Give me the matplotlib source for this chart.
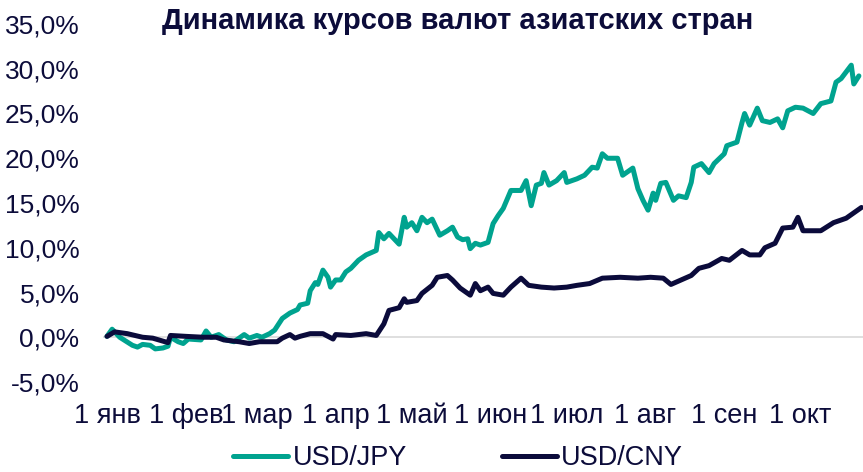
import matplotlib
matplotlib.use("Agg")
import matplotlib.pyplot as plt
import matplotlib.ticker as mticker
import pandas as pd

plt.rcParams['font.family'] = ['Liberation Sans', 'DejaVu Sans']

title = "Динамика курсов валют азиатских стран"
start = "2022-01-01"

jpy_days = [0, 2, 5, 10, 12, 14, 17, 19, 22, 24, 25, 28, 30, 32, 37, 39, 41, 44, 47, 50,
            54, 56, 59, 61, 64, 66, 69, 72, 75, 76, 79, 80, 82, 83, 85, 87, 88, 90, 92, 94,
            96, 99, 102, 106, 107, 109, 111, 115, 117, 118, 120, 122, 124, 126, 128, 131,
            134, 136, 138, 140, 142, 143, 145, 147, 150, 152, 154, 156, 159, 163, 165, 167,
            169, 171, 172, 174, 177, 180, 181, 185, 188, 191, 193, 195, 197, 201, 203, 207,
            209, 211, 213, 215, 216, 218, 220, 223, 225, 228, 230, 231, 234, 237, 239, 243,
            244, 248, 250, 251, 253, 256, 258, 261, 264, 266, 268, 271, 274, 278, 281, 285,
            287, 289, 293, 294, 296]
jpy_vals = [0.1, 0.9, 0.0, -0.9, -1.1, -0.8, -0.9, -1.3, -1.2, -1.0, 0.0, -0.5, -0.7, -0.2,
            -0.3, 0.7, 0.0, 0.3, -0.3, -0.5, 0.3, -0.1, 0.2, 0.0, 0.4, 0.8, 2.1, 2.7, 3.1,
            3.6, 3.8, 5.2, 6.1, 5.9, 7.5, 6.7, 5.6, 6.4, 6.4, 7.3, 7.7, 8.6, 9.2, 9.7, 11.7,
            11.0, 11.6, 10.4, 13.4, 12.3, 12.8, 11.9, 13.4, 12.8, 13.2, 11.4, 11.9, 12.3,
            11.2, 10.9, 11.0, 9.9, 10.5, 10.3, 10.6, 12.7, 13.6, 14.4, 16.4, 16.4, 17.5,
            14.7, 17.0, 17.2, 18.4, 17.0, 17.5, 18.4, 17.3, 17.7, 18.1, 19.0, 18.9, 20.5,
            20.0, 20.0, 18.1, 18.9, 16.6, 15.3, 14.2, 16.1, 15.3, 17.2, 17.3, 15.3, 15.8,
            15.6, 17.3, 19.0, 19.4, 18.4, 19.4, 20.5, 21.4, 21.8, 24.0, 25.0, 23.7, 25.6,
            24.2, 24.0, 24.4, 23.4, 25.3, 25.7, 25.6, 25.0, 26.1, 26.4, 28.5, 28.9, 30.4,
            28.3, 29.2]

cny_days = [0, 3, 8, 14, 18, 24, 25, 31, 38, 43, 46, 52, 56, 60, 67, 69, 72, 74, 76, 80,
            85, 89, 90, 96, 102, 106, 109, 111, 115, 117, 118, 122, 124, 128, 130, 134, 136,
            139, 143, 145, 147, 150, 152, 156, 159, 163, 166, 171, 176, 181, 185, 190, 195,
            202, 209, 214, 219, 222, 226, 230, 233, 237, 242, 245, 250, 253, 257, 259, 263,
            266, 270, 272, 274, 281, 286, 291, 294, 297]
cny_vals = [0.1, 0.6, 0.4, 0.0, -0.1, -0.6, 0.2, 0.1, 0.0, 0.0, -0.3, -0.5, -0.7, -0.5,
            -0.5, -0.1, 0.3, -0.1, 0.1, 0.4, 0.4, -0.2, 0.3, 0.2, 0.4, 0.2, 1.5, 3.0, 3.3,
            4.3, 3.9, 4.1, 4.9, 5.8, 6.7, 6.9, 6.4, 5.5, 4.7, 6.0, 5.2, 5.6, 4.9, 4.7, 5.6,
            6.6, 5.8, 5.6, 5.5, 5.6, 5.8, 6.0, 6.6, 6.7, 6.6, 6.7, 6.6, 5.9, 6.4, 6.9, 7.7,
            8.0, 8.8, 8.6, 9.7, 9.2, 9.2, 10.0, 10.5, 12.2, 12.3, 13.4, 11.9, 11.9, 12.8,
            13.3, 13.9, 14.5]

month_labels = ["1 янв", "1 фев", "1 мар", "1 апр", "1 май", "1 июн", "1 июл", "1 авг",
                "1 сен", "1 окт"]
yticks = [-5, 0, 5, 10, 15, 20, 25, 30, 35]

jpy_color = "#00A38F"
cny_color = "#0B0B3B"
text_color = "#0C0C3A"

t0 = pd.Timestamp(start)
jpy_dates = [t0 + pd.Timedelta(days=d) for d in jpy_days]
cny_dates = [t0 + pd.Timedelta(days=d) for d in cny_days]
month_ticks = pd.date_range(start, periods=len(month_labels), freq="MS")

fig = plt.figure(figsize=(8.63, 4.72), dpi=100)
ax = fig.add_axes([103.2 / 863, 1 - 382 / 472, 759.5 / 863, (382 - 24) / 472])

ax.axhline(0, color="#D9D9D9", lw=1.2, zorder=1)
ax.plot(jpy_dates, jpy_vals, color=jpy_color, lw=3.6, label="USD/JPY",
        solid_joinstyle="round", solid_capstyle="round", zorder=3)
ax.plot(cny_dates, cny_vals, color=cny_color, lw=3.6, label="USD/CNY",
        solid_joinstyle="round", solid_capstyle="round", zorder=4)

ax.set_xlim(t0 - pd.Timedelta(days=1.5), t0 + pd.Timedelta(days=297.5))
ax.set_ylim(-5, 35)
ax.set_yticks(yticks)
ax.yaxis.set_major_formatter(mticker.FuncFormatter(lambda v, p: f"{v:.1f}%".replace(".", ",")))
ax.set_xticks(month_ticks)
ax.set_xticklabels(month_labels)
ax.tick_params(axis="both", length=0, colors=text_color)
ax.tick_params(axis="y", pad=17, labelsize=19)
ax.tick_params(axis="x", pad=15, labelsize=19.5)
for s in ax.spines.values():
    s.set_visible(False)

fig.text(458 / 863, 1 - 21 / 472, title, ha="center", va="center", fontsize=21,
         fontweight="bold", color=text_color)

fig.legend(loc="center", bbox_to_anchor=(458 / 863, 1 - 458 / 472), ncol=2, frameon=False,
           fontsize=19.5, handlelength=2.05, handletextpad=0.15, columnspacing=3.5,
           labelcolor=text_color, borderpad=0)

fig.savefig("out.png", dpi=100)
